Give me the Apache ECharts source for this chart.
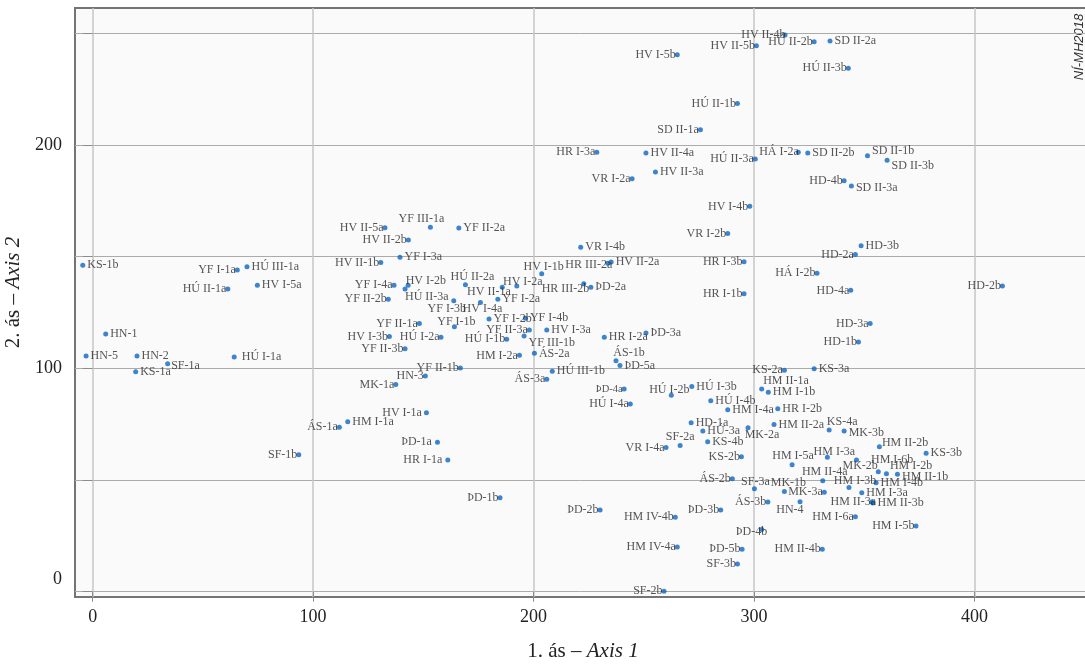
<!DOCTYPE html>
<html>
<head>
<meta charset="utf-8">
<script src="https://cdn.jsdelivr.net/npm/echarts@6/dist/echarts.min.js"></script>
<style>
  html, body { margin: 0; padding: 0; background: #ffffff; }
  #chart { width: 1085px; height: 666px; }
</style>
</head>
<body>
<div id="chart"></div>
<script>
// Site codes and their scores on the first two ordination axes
const SITES = [
  'HV II-4b','HV II-5b','HÚ II-2b','SD II-2a','HV I-5b','HÚ II-3b','HÚ II-1b','SD II-1a','HR I-3a','HV II-4a',
  'HÚ II-3a','HÁ I-2a','SD II-2b','HV II-3a','VR I-2a','HV I-4b','SD II-1b','SD II-3b','HD-4b','SD II-3a',
  'KS-1b','YF I-1a','HÚ III-1a','HÚ II-1a','HV I-5a','HN-1','HN-5','HN-2','SF-1a','KS-1a',
  'HÚ I-1a','YF III-1a','HV II-5a','YF II-2a','HV II-2b','HV II-1b','YF I-3a','YF I-4a','HV I-2b','HÚ II-3a',
  'YF II-2b','HÚ II-2a','HV I-2a','HV II-1a','YF I-2a','YF I-3b','HV I-4a','YF I-1b','YF I-2b','YF I-4b',
  'YF II-3a','HV I-3a','YF II-1a','HV I-3b','HÚ I-2a','HÚ I-1b','YF III-1b','YF II-3b','HM I-2a','ÁS-2a',
  'YF II-1b','HN-3','MK-1a','HV I-1a','HM I-1a','ÁS-1a','ÁS-3a','HV I-1b','VR I-2b','VR I-4b',
  'HR III-2a','HV II-2a','HR I-3b','HÁ I-2b','HR III-2b','ÞD-2a','HR I-1b','HR I-2a','ÞD-3a','ÁS-1b',
  'ÞD-5a','HÚ III-1b','ÞD-4a','HÚ I-4a','HÚ I-2b','HÚ I-3b','HÚ I-4b','HM I-4a','HM II-1a','HM I-1b',
  'HR I-2b','KS-2a','KS-3a','HD-1a','HÚ-3a','MK-2a','HM II-2a','SF-2a','HD-3b','HD-2a',
  'HD-4a','HD-2b','HD-3a','HD-1b','KS-4a','MK-3b','VR I-4a','KS-4b','KS-2b','HM I-5a',
  'ÁS-2b','SF-3a','MK-1b','MK-3a','HN-4','ÁS-3b','ÞD-2b','HM IV-4b','ÞD-3b','ÞD-4b',
  'HM IV-4a','ÞD-5b','SF-3b','SF-2b','HM II-4b','HM II-2b','KS-3b','HM I-3a','HM I-6b','MK-2b',
  'HM I-2b','HM II-1b','HM II-4a','HM I-4b','HM I-3b','HM I-3a','HM II-3a','HM II-3b','HM I-6a','HM I-5b',
  'ÞD-1a','HR I-1a','SF-1b','ÞD-1b'
];
const AXIS1 = [
  314.1,301.1,327.3,334.5,265.2,342.8,292.5,275.7,228.7,251.0,
  300.6,320.1,324.4,255.3,244.7,298.1,351.5,360.4,340.9,344.2,
  -4.5,65.6,70.0,61.3,74.7,5.9,-3.0,20.1,34.0,19.5,
  64.2,153.2,132.6,166.1,143.2,130.7,139.4,136.7,143.1,141.7,
  134.1,169.1,192.4,185.8,183.8,163.8,175.9,164.1,179.8,196.3,
  198.1,206.0,148.2,134.6,158.0,187.8,195.7,141.7,193.6,200.4,
  166.8,150.9,137.5,151.4,115.7,111.9,206.0,203.7,288.1,221.4,
  233.7,235.2,295.5,328.6,222.8,226.0,295.5,232.1,251.0,237.4,
  239.2,208.5,241.1,243.9,262.5,271.8,280.4,288.1,303.5,306.5,
  310.8,313.8,327.3,271.5,276.8,297.3,309.1,266.5,348.6,346.0,
  343.9,412.7,352.7,347.4,334.1,340.9,260.1,279.0,294.3,317.3,
  290.2,300.2,313.8,331.9,320.9,306.3,230.2,264.3,284.9,303.5,
  265.2,294.6,292.5,259.2,331.0,356.9,378.1,333.3,346.5,356.4,
  360.1,365.1,331.2,355.4,343.1,348.9,353.4,354.0,346.0,373.5,
  156.4,161.1,93.5,184.8
];
const AXIS2 = [
  249.2,244.4,246.2,246.5,240.4,234.3,218.6,206.8,196.7,196.4,
  193.7,196.7,196.4,187.9,184.9,172.5,195.2,193.2,184.0,181.6,
  146.1,144.0,145.5,135.5,137.2,115.4,105.5,105.5,102.1,98.5,
  105.1,163.2,162.9,162.8,157.4,147.4,149.7,137.2,137.2,135.5,
  130.9,137.4,136.8,136.3,130.9,130.3,129.5,118.6,122.1,122.4,
  117.1,117.1,120.1,114.3,113.9,113.0,114.5,108.8,105.8,106.7,
  100.1,96.6,92.8,80.1,76.1,73.6,95.1,142.3,160.3,154.2,
  147.0,147.6,147.7,142.6,137.9,136.3,133.4,113.9,115.8,103.4,
  101.3,98.7,90.7,84.0,87.9,91.9,85.5,81.5,90.7,89.3,
  81.9,99.1,99.8,75.6,71.9,73.4,74.8,65.5,154.9,150.9,
  134.9,136.8,120.1,111.8,72.4,71.9,64.5,67.1,60.4,56.8,
  50.6,46.1,44.9,44.5,40.3,40.2,36.6,33.3,36.6,27.9,
  20.0,19.0,12.4,0.2,19.0,64.9,62.0,60.2,59.0,53.7,
  52.8,52.6,49.7,48.8,46.6,44.3,40.2,39.7,33.6,29.4,
  66.9,59.0,61.3,42.1
];
const X_TICKS = [0, 100, 200, 300, 400];
const Y_TICKS = [0, 50, 100, 150, 200, 250];
const Y_LABELS = [0, 100, 200];

// Where each site's label sits next to its marker: side, dx, dy, font size
const LABEL_PLACE = [
  ['l',2,0],['l'],['l'],['r'],['l'],['l'],['l'],['l'],['l'],['r'],
  ['l'],['l',2,0],['r'],['r'],['l'],['l'],['r',0,-5],['r',0,6],['l'],['r',0,2],
  ['r'],['l'],['r'],['l'],['r'],['r'],['r'],['r'],['r',-1,2],['r'],
  ['r',3,0],['t',-9,0],['l'],['r'],['l'],['l'],['r'],['l'],['r',-7,-4],['r',-4.5,8],
  ['l'],['t',7,1],['t',6,4],['l',10,5],['r'],['b',-7,0],['b',2,-2],['t',2,4],['r'],['r'],
  ['l'],['r'],['l'],['l'],['l'],['l'],['r',0,7],['l'],['l'],['r'],
  ['l'],['l'],['l'],['l',-3,0],['r'],['l'],['l'],['t',2,2],['l'],['r'],
  ['l',6,2],['r'],['l'],['l'],['l',7,5],['r'],['l'],['r'],['r'],['t',13,1],
  ['r'],['r'],['l',0,0,10.5],['l'],['t',-2,3],['r'],['r'],['r'],['r',-3,-8],['r'],
  ['r'],['l'],['r'],['r'],['r'],['b',14,-1],['r'],['t'],['r'],['l'],
  ['l'],['l'],['l'],['l'],['t',13,0],['r',0,2],['l'],['r'],['l'],['t',1,0],
  ['l'],['t',1,2],['t',4,0],['l'],['l',5,8],['l'],['l'],['l'],['l'],['l',7,2],
  ['l'],['l'],['l'],['l'],['l'],['r',-2,-4],['r'],['t',7,3],['r',10,0],['l',1,-6],
  ['r',-1,-8],['r',0,3],['t',2,0],['r'],['t',6,2],['r'],['l',6,0],['r'],['l'],['l'],
  ['l',-4,0],['l',-4,0],['l'],['l']
];

const SERIF = '"Liberation Serif", "DejaVu Serif", "Times New Roman", serif';
const SIDE = { l: 'left', r: 'right', t: 'top', b: 'bottom' };
const GAP = { l: -1, r: 2, t: 0, b: 0 };

function labelFor(i) {
  const p = LABEL_PLACE[i] || ['l'];
  const side = p[0];
  return {
    position: SIDE[side],
    distance: GAP[side],
    offset: [p[1] || 0, p[2] || 0],
    fontSize: p[3] || 12
  };
}

const points = SITES.map((name, i) => ({
  name: name,
  value: [AXIS1[i], AXIS2[i]],
  label: labelFor(i)
}));

const chart = echarts.init(document.getElementById('chart'), null, { renderer: 'canvas' });

const tickStyle = { color: '#8c8c8c', width: 1 };
const axisText = { fontFamily: SERIF, fontSize: 18, color: '#222' };
const titleText = { fontFamily: SERIF, fontSize: 21, color: '#222' };

chart.setOption({
  animation: false,
  backgroundColor: '#ffffff',
  grid: {
    left: 75, top: 8, right: -6, bottom: 69,
    containLabel: false,
    outerBoundsMode: 'none',
    show: true,
    backgroundColor: '#fafafa',
    borderColor: '#747474',
    borderWidth: 2
  },
  xAxis: {
    type: 'value',
    min: -8.03, max: 452.9,
    axisLine: { show: false },
    axisTick: { show: true, length: 10, customValues: X_TICKS, lineStyle: tickStyle },
    axisLabel: { customValues: X_TICKS, margin: 11, ...axisText },
    splitLine: { show: true, lineStyle: { color: '#c6c6c6', width: 1.5 } },
    name: '1. ás – {i|Axis 1}',
    nameLocation: 'middle',
    nameGap: 44,
    nameTextStyle: {
      ...titleText,
      rich: { i: { ...titleText, fontStyle: 'italic' } }
    }
  },
  yAxis: {
    type: 'value',
    min: -2.37, max: 261.3,
    axisLine: { show: false },
    axisTick: { show: true, length: 10, customValues: Y_TICKS, lineStyle: tickStyle },
    axisLabel: {
      customValues: Y_LABELS,
      margin: 13,
      ...axisText,
      formatter: v => (v === 0 ? '{z|0}' : String(v)),
      rich: { z: { ...axisText, padding: [0, 0, 24, 0] } }
    },
    splitLine: { show: true, lineStyle: { color: '#ababab', width: 1 } },
    name: '2. ás – {i|Axis 2}',
    nameLocation: 'middle',
    nameRotate: 90,
    nameGap: 46,
    nameTextStyle: {
      ...titleText,
      padding: [0, 0, 0, 20],
      rich: { i: { ...titleText, fontStyle: 'italic' } }
    }
  },
  graphic: [{
    type: 'text',
    x: 1079, y: 47,
    rotation: Math.PI / 2,
    style: {
      text: 'NÍ-MH2018',
      font: 'italic 13px "Liberation Sans", Arial, sans-serif',
      fill: '#333',
      align: 'center',
      verticalAlign: 'middle'
    }
  }],
  series: [{
    type: 'scatter',
    symbol: 'circle',
    symbolSize: 5,
    clip: false,
    itemStyle: { color: '#0c67c2' },
    label: {
      show: true,
      formatter: '{b}',
      fontFamily: SERIF,
      fontSize: 12,
      color: '#2a2a2a'
    },
    data: points
  }]
});
</script>
</body>
</html>
